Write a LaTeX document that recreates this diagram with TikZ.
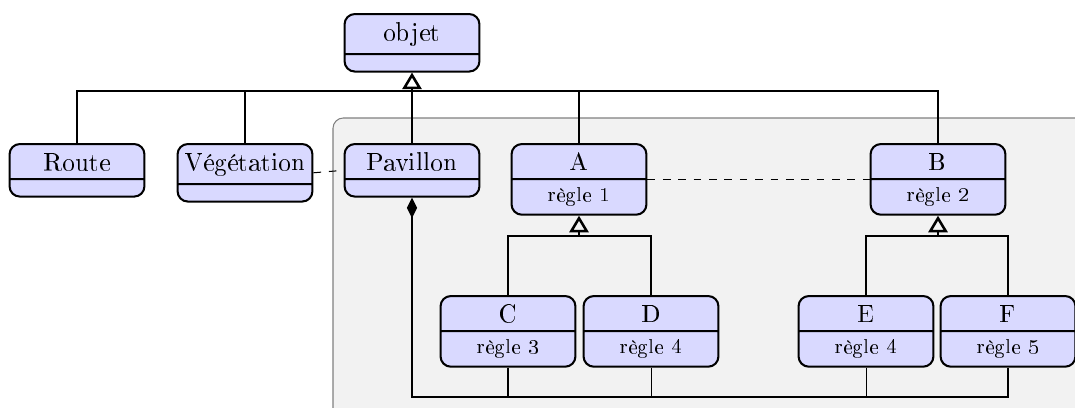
\documentclass[tikz,border=0pt]{standalone}
\usepackage[T1]{fontenc}
\usetikzlibrary{arrows.meta,shapes.multipart}

\begin{document}
\begin{tikzpicture}[
  x=0.39pt, y=-0.39pt,
  classe/.style={rectangle split, rectangle split parts=2, draw, thick,
    rounded corners=4pt, fill=blue!15, text width=48pt, align=center,
    inner xsep=2.3pt, inner ysep=3pt, anchor=north},
  regle/.style={font=\footnotesize},
  heritage/.style={thick,-{Triangle[open,length=6.5pt,width=7.5pt,line width=1pt]}},
  lien/.style={thick},
  compo/.style={thick,{Diamond[length=8pt,width=4pt]}-}
]
  \clip (0,0) rectangle (1075,407);
  \draw[gray,fill=gray!10,rounded corners=4pt] (333,118) rectangle (1100,430);

  \node[classe] (objet) at (412,13) {objet \nodepart{second}};
  \node[classe] (route) at (77,143) {Route \nodepart{second}};
  \node[classe] (vegetation) at (245,143) {Végétation \nodepart{second}};
  \node[classe] (pavillon) at (412,143) {Pavillon \nodepart{second}};
  \node[classe] (a) at (579,143) {A \nodepart[regle]{second} règle 1};
  \node[classe] (b) at (938,143) {B \nodepart[regle]{second} règle 2};
  \node[classe] (c) at (508,295) {C \nodepart[regle]{second} règle 3};
  \node[classe] (d) at (651,295) {D \nodepart[regle]{second} règle 4};
  \node[classe] (e) at (866,295) {E \nodepart[regle]{second} règle 4};
  \node[classe] (f) at (1008,295) {F \nodepart[regle]{second} règle 5};

  \coordinate (hub) at (412,91);
  \coordinate (hubA) at (579,236);
  \coordinate (hubB) at (938,236);
  \coordinate (bas) at (412,397);

  \draw[heritage] (pavillon.north) -- (objet.south);
  \draw[lien] (route.north) |- (hub);
  \draw[lien] (vegetation.north) |- (hub);
  \draw[lien] (a.north) |- (hub);
  \draw[lien] (b.north) |- (hub);

  \draw[heritage] (hubA) -- (a.south);
  \draw[lien] (c.north) |- (hubA);
  \draw[lien] (d.north) |- (hubA);
  \draw[heritage] (hubB) -- (b.south);
  \draw[lien] (e.north) |- (hubB);
  \draw[lien] (f.north) |- (hubB);

  \draw[dashed] (vegetation.east) -- (pavillon.west);
  \draw[dashed] (a.text split east) -- (b.text split west);

  \draw[compo] (pavillon.south) -- (bas) -| (f.south);
  \draw (c.south) -- (c.south |- bas);
  \draw (d.south) -- (d.south |- bas);
  \draw (e.south) -- (e.south |- bas);
\end{tikzpicture}
\end{document}
